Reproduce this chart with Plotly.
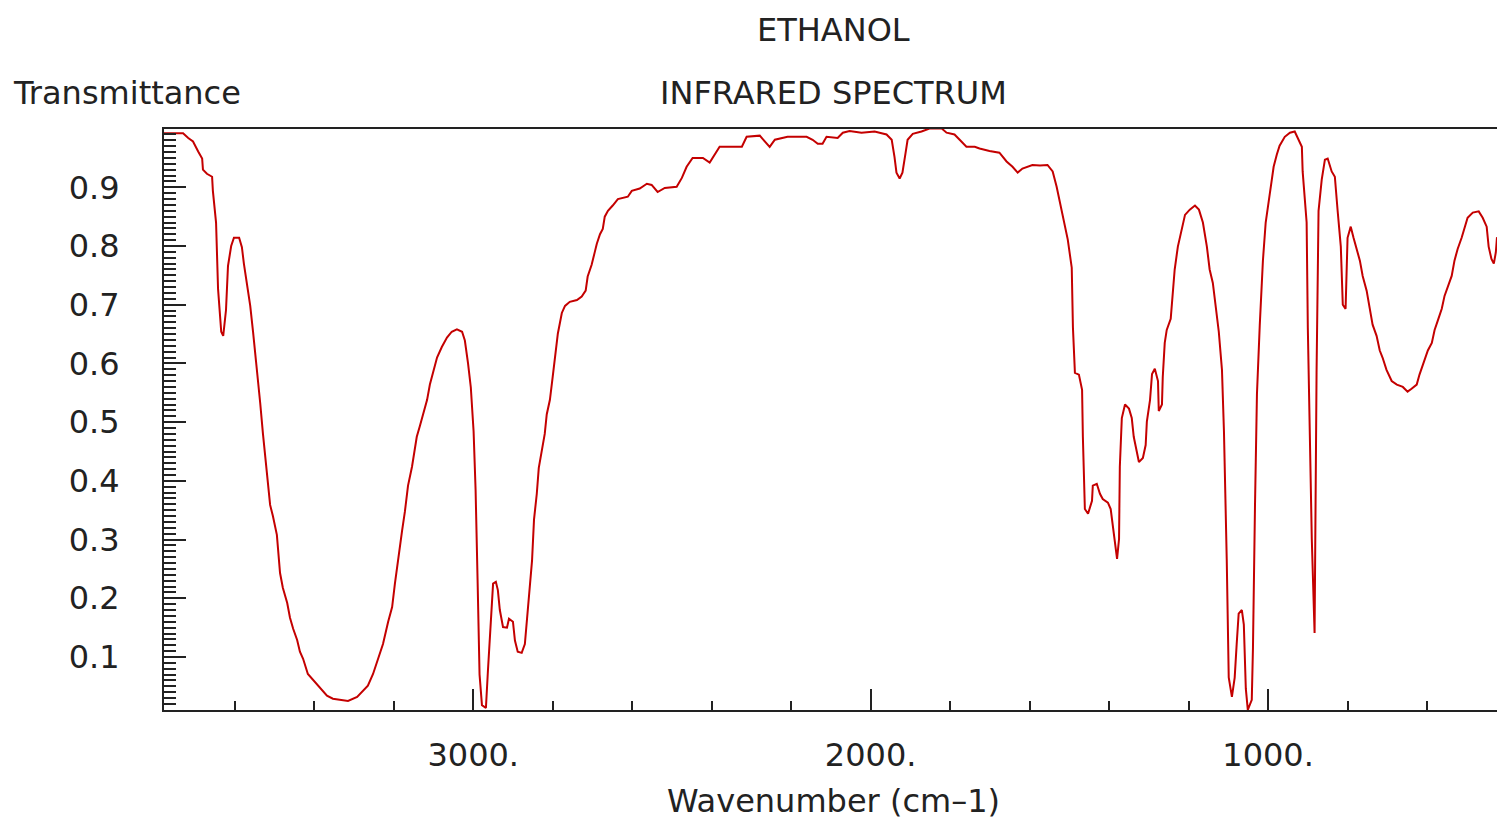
import plotly.graph_objects as go


# IR spectrum of ethanol
WAVENUMBER = [
    3780, 3730, 3717, 3705, 3692, 3682, 3680, 3670, 3657, 3655, 3647, 3642, 3634, 3629,
    3622, 3617, 3609, 3602, 3589, 3582, 3577, 3569, 3561, 3554, 3549, 3544, 3536, 3529,
    3519, 3511, 3504, 3494, 3486, 3479, 3468, 3461, 3453, 3443, 3436, 3428, 3416, 3403,
    3385, 3368, 3353, 3330, 3315, 3292, 3277, 3265, 3252, 3240, 3227, 3214, 3204, 3197,
    3189, 3179, 3172, 3164, 3154, 3147, 3142, 3134, 3126, 3116, 3109, 3101, 3091, 3079,
    3066, 3054, 3041, 3028, 3021, 3013, 3006, 2999, 2994, 2989, 2984, 2978, 2968, 2963,
    2956, 2950, 2943, 2938, 2933, 2925, 2915, 2910, 2900, 2895, 2888, 2878, 2870, 2862,
    2852, 2847, 2840, 2835, 2827, 2820, 2815, 2807, 2800, 2792, 2787, 2777, 2769, 2757,
    2739, 2727, 2717, 2712, 2702, 2694, 2689, 2681, 2674, 2669, 2661, 2649, 2636, 2611,
    2601, 2581, 2563, 2551, 2536, 2518, 2488, 2475, 2463, 2448, 2422, 2405, 2392, 2380,
    2324, 2312, 2279, 2267, 2254, 2241, 2209, 2161, 2146, 2133, 2121, 2111, 2083, 2070,
    2053, 2023, 1990, 1960, 1947, 1940, 1935, 1927, 1920, 1912, 1907, 1894, 1872, 1852,
    1821, 1809, 1789, 1776, 1759, 1738, 1726, 1701, 1676, 1658, 1643, 1630, 1618, 1593,
    1574, 1555, 1542, 1532, 1519, 1511, 1504, 1494, 1491, 1486, 1476, 1468, 1466, 1461,
    1453, 1443, 1441, 1431, 1423, 1416, 1403, 1396, 1391, 1385, 1380, 1375, 1373, 1368,
    1360, 1350, 1343, 1338, 1330, 1325, 1315, 1308, 1305, 1297, 1292, 1285, 1277, 1275,
    1267, 1265, 1260, 1255, 1245, 1240, 1235, 1227, 1217, 1209, 1197, 1184, 1174, 1164,
    1154, 1147, 1139, 1132, 1124, 1116, 1111, 1104, 1099, 1091, 1084, 1079, 1074, 1066,
    1061, 1056, 1051, 1041, 1038, 1033, 1028, 1021, 1013, 1006, 998, 991, 986, 978,
    971, 958, 945, 933, 925, 915, 913, 903, 900, 890, 883, 878, 873, 865,
    857, 850, 840, 832, 825, 817, 812, 805, 800, 792, 785, 777, 769, 762,
    752, 744, 737, 727, 719, 712, 702, 689, 676, 661, 649, 639, 626, 619,
    608, 598, 588, 581, 573, 563, 556, 548, 538, 531, 523, 513, 505, 498,
    485, 470, 460, 450, 445, 438, 432, 427, 424,
]
TRANSMITTANCE = [
    0.992, 0.992, 0.984, 0.978, 0.961, 0.949, 0.930, 0.923, 0.918, 0.894, 0.840, 0.727, 0.654, 0.647,
    0.691, 0.766, 0.800, 0.814, 0.814, 0.798, 0.770, 0.734, 0.698, 0.654, 0.622, 0.584, 0.533, 0.480,
    0.410, 0.359, 0.340, 0.308, 0.243, 0.218, 0.192, 0.167, 0.148, 0.129, 0.109, 0.097, 0.071, 0.061,
    0.046, 0.034, 0.029, 0.027, 0.025, 0.032, 0.042, 0.051, 0.071, 0.097, 0.122, 0.160, 0.185, 0.225,
    0.269, 0.315, 0.347, 0.392, 0.424, 0.450, 0.475, 0.494, 0.513, 0.538, 0.564, 0.584, 0.610, 0.628,
    0.644, 0.654, 0.658, 0.654, 0.639, 0.600, 0.559, 0.484, 0.385, 0.231, 0.070, 0.018, 0.013, 0.076,
    0.160, 0.225, 0.228, 0.214, 0.180, 0.151, 0.150, 0.165, 0.160, 0.128, 0.109, 0.107, 0.122, 0.192,
    0.264, 0.334, 0.378, 0.422, 0.451, 0.480, 0.513, 0.538, 0.577, 0.622, 0.651, 0.686, 0.698, 0.705,
    0.708, 0.714, 0.724, 0.748, 0.768, 0.790, 0.804, 0.820, 0.829, 0.850, 0.860, 0.869, 0.880, 0.884,
    0.894, 0.898, 0.906, 0.904, 0.892, 0.899, 0.901, 0.916, 0.935, 0.950, 0.950, 0.942, 0.956, 0.969,
    0.969, 0.986, 0.988, 0.978, 0.969, 0.981, 0.986, 0.986, 0.981, 0.974, 0.974, 0.986, 0.984, 0.993,
    0.996, 0.993, 0.995, 0.990, 0.981, 0.952, 0.925, 0.915, 0.925, 0.959, 0.981, 0.991, 0.995, 1.000,
    1.000, 0.993, 0.990, 0.981, 0.969, 0.969, 0.966, 0.962, 0.959, 0.944, 0.935, 0.925, 0.932, 0.938,
    0.937, 0.938, 0.927, 0.901, 0.858, 0.836, 0.811, 0.763, 0.661, 0.584, 0.581, 0.555, 0.475, 0.352,
    0.344, 0.366, 0.392, 0.395, 0.378, 0.369, 0.363, 0.352, 0.323, 0.298, 0.267, 0.301, 0.424, 0.507,
    0.530, 0.523, 0.507, 0.475, 0.450, 0.432, 0.439, 0.461, 0.501, 0.538, 0.582, 0.591, 0.570, 0.519,
    0.530, 0.577, 0.635, 0.657, 0.676, 0.712, 0.760, 0.799, 0.828, 0.853, 0.862, 0.869, 0.862, 0.840,
    0.799, 0.760, 0.737, 0.700, 0.654, 0.589, 0.484, 0.266, 0.065, 0.032, 0.065, 0.122, 0.174, 0.180,
    0.155, 0.046, 0.010, 0.027, 0.116, 0.354, 0.548, 0.664, 0.775, 0.840, 0.881, 0.910, 0.935, 0.956,
    0.971, 0.986, 0.993, 0.995, 0.984, 0.969, 0.927, 0.840, 0.661, 0.301, 0.141, 0.584, 0.860, 0.913,
    0.947, 0.949, 0.927, 0.918, 0.860, 0.799, 0.700, 0.693, 0.814, 0.833, 0.814, 0.795, 0.775, 0.749,
    0.724, 0.693, 0.666, 0.647, 0.622, 0.610, 0.589, 0.570, 0.564, 0.560, 0.552, 0.557, 0.564, 0.581,
    0.603, 0.622, 0.635, 0.657, 0.673, 0.693, 0.715, 0.731, 0.749, 0.775, 0.795, 0.814, 0.833, 0.848,
    0.857, 0.859, 0.848, 0.833, 0.799, 0.778, 0.770, 0.789, 0.815,
]

X_TICKS = [3000, 2000, 1000]
X_TICK_TEXT = ["3000.", "2000.", "1000."]
Y_TICKS = [0.1, 0.2, 0.3, 0.4, 0.5, 0.6, 0.7, 0.8, 0.9]

INK = "#222222"
FONT = "DejaVu Sans"


def spectrum_chart() -> go.Figure:
    fig = go.Figure(
        go.Scatter(
            x=WAVENUMBER,
            y=TRANSMITTANCE,
            mode="lines",
            line=dict(color="#c40000", width=2),
            hoverinfo="x+y",
        )
    )
    fig.update_layout(
        width=1497,
        height=819,
        margin=dict(l=164, r=0, t=129, b=109),
        paper_bgcolor="white",
        plot_bgcolor="white",
        showlegend=False,
        font=dict(family=FONT, size=32, color=INK),
    )
    fig.update_xaxes(
        range=[3778, 424],
        showgrid=False,
        zeroline=False,
        showline=True,
        mirror=True,
        linecolor=INK,
        linewidth=2,
        ticks="inside",
        ticklen=21,
        tickwidth=2,
        tickcolor=INK,
        tickvals=X_TICKS,
        ticktext=X_TICK_TEXT,
        ticklabelstandoff=16,
        minor=dict(dtick=200, tick0=0, ticks="inside", ticklen=9, tickwidth=2, tickcolor=INK, showgrid=False),
    )
    fig.update_yaxes(
        range=[0.0097, 0.9993],
        showgrid=False,
        zeroline=False,
        showline=True,
        linecolor=INK,
        linewidth=2,
        ticks="inside",
        ticklen=22,
        tickwidth=2,
        tickcolor=INK,
        tickvals=Y_TICKS,
        tickformat=".1f",
        ticklabelstandoff=36,
        minor=dict(dtick=0.01, tick0=0, ticks="inside", ticklen=12, tickwidth=2, tickcolor=INK, showgrid=False),
    )

    labels = [
        ("ETHANOL", 0.5025, 1.170, "center"),
        ("INFRARED SPECTRUM", 0.5025, 1.062, "center"),
        ("Transmittance", -0.1148, 1.062, "left"),
        ("Wavenumber (cm–1)", 0.5025, -0.156, "center"),
    ]
    for text, x, y, anchor in labels:
        fig.add_annotation(
            text=text, x=x, y=y, xref="paper", yref="paper",
            xanchor=anchor, yanchor="middle", showarrow=False,
            font=dict(family=FONT, size=32, color=INK),
        )
    return fig


fig = spectrum_chart()
# drop the default page margin so the figure fills the window exactly
fig.write_html(
    "out.html",
    config={"displayModeBar": False},
    post_script="document.body.style.margin = '0';",
)
